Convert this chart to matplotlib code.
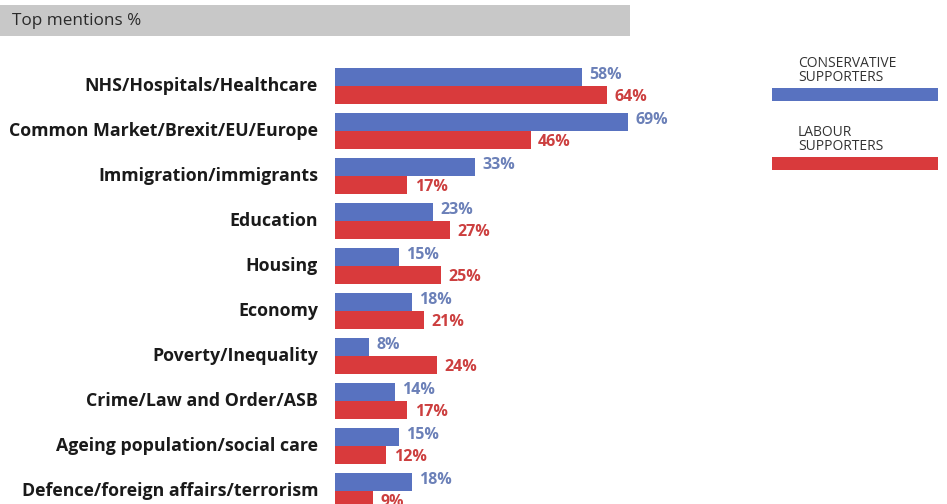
import matplotlib
matplotlib.use("Agg")
import matplotlib.pyplot as plt
from matplotlib.patches import Rectangle

categories = ["NHS/Hospitals/Healthcare", "Common Market/Brexit/EU/Europe",
              "Immigration/immigrants", "Education", "Housing", "Economy",
              "Poverty/Inequality", "Crime/Law and Order/ASB",
              "Ageing population/social care", "Defence/foreign affairs/terrorism"]
conservative = [58, 69, 33, 23, 15, 18, 8, 14, 15, 18]
labour = [64, 46, 17, 27, 25, 21, 24, 17, 12, 9]
series_names = ["CONSERVATIVE\nSUPPORTERS", "LABOUR\nSUPPORTERS"]
title = "Top mentions %"

BLUE = "#5872c0"
RED = "#d93a3c"
BLUE_T = "#6b80b8"
RED_T = "#cc3f3f"

W, H = 947, 504
fig = plt.figure(figsize=(W / 100, H / 100), dpi=100)
fig.patch.set_facecolor("white")

FONT = "Open Sans"

# header band
fig.patches.append(Rectangle((0, 1 - 36 / H), 630 / W, 31 / H, transform=fig.transFigure,
                             facecolor="#c8c8c8", edgecolor="none", zorder=0))
fig.text(12 / W, 1 - 21 / H, title, fontsize=12.3, family=FONT, color="#2a2a2a",
         va="center", ha="left")

# main axes
left = 335 / W
width = 425 / W
ax = fig.add_axes([left, 0, width, 1])
ax.set_xlim(0, 100)
ax.set_ylim((H - 86) / 45, -86 / 45)
ax.axis("off")

h = 0.4
ys = list(range(len(categories)))
ax.barh([y - h / 2 for y in ys], conservative, height=h, color=BLUE)
ax.barh([y + h / 2 for y in ys], labour, height=h, color=RED)
for y, c, l, name in zip(ys, conservative, labour, categories):
    ax.text(c + 1.8, y - h / 2 - 0.04, f"{c}%", color=BLUE_T, fontsize=11.5,
            fontweight="bold", family=FONT, va="center", ha="left")
    ax.text(l + 1.8, y + h / 2 + 0.04, f"{l}%", color=RED_T, fontsize=11.5,
            fontweight="bold", family=FONT, va="center", ha="left")
    ax.text(-4, y, name, fontsize=12.8, fontweight="bold", family=FONT,
            color="#1a1a1a", va="center", ha="right")

# legend
for i, (nm, col) in enumerate(zip(series_names, [BLUE, RED])):
    top = 56 + i * 69
    fig.text(798 / W, 1 - top / H, nm, fontsize=10, family=FONT, color="#333333",
             va="top", ha="left", linespacing=0.95)
    fig.patches.append(Rectangle((772 / W, 1 - (top + 45) / H), 166 / W, 13 / H,
                                 transform=fig.transFigure, facecolor=col,
                                 edgecolor="none"))

fig.savefig("out.png", dpi=100)
